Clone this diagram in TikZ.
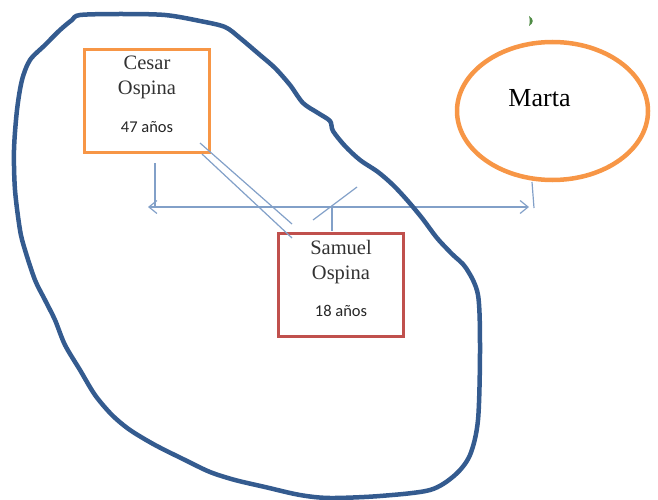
\documentclass[tikz,border=0pt]{standalone}
\usepackage{fontspec}
\setmainfont{Liberation Serif}
\newfontfamily\agefont{Carlito}
\usetikzlibrary{positioning, arrows.meta, shapes.geometric}

\definecolor{boxorange}{RGB}{247,150,70}
\definecolor{boxred}{RGB}{192,80,77}
\definecolor{linkblue}{RGB}{130,160,200}
\definecolor{loopblue}{RGB}{52,91,143}
\definecolor{namegray}{RGB}{50,50,50}
\definecolor{markgreen}{RGB}{80,140,70}

\begin{document}
\begin{tikzpicture}[x=1pt, y=-1pt,
    person/.style={draw, line width=3pt, minimum width=125pt, minimum height=103pt},
    nametext/.style={text=namegray, font=\fontsize{20.5}{25}\selectfont, align=center},
    agetext/.style={text=black!85, font=\agefont\fontsize{16.5}{18}\selectfont},
    link/.style={draw=linkblue, line width=1.2pt},
    barb/.tip={Straight Barb[length=8pt, width=13pt]}]
    \useasboundingbox (0,0) rectangle (658,500);

    % people
    \node[person, draw=boxorange] (cesar) at (147,101) {};
    \node[nametext] (cesarname) at (147,77) {Cesar\\Ospina};
    \node[agetext] (cesarage) at (147,127) {47 años};

    \node[person, draw=boxred] (samuel) at (341,285) {};
    \node[nametext] (samuelname) at (341,262) {Samuel\\Ospina};
    \node[agetext] (samuelage) at (341,311) {18 años};

    \node[draw=boxorange, line width=4.5pt, ellipse, minimum width=191pt, minimum height=138pt] (marta) at (552.5,111) {};
    \node[font=\fontsize{26}{30}\selectfont] (martaname) at (539.5,98) {Marta};

    % connectors
    \coordinate (cesarfoot) at (155,163);
    \coordinate (leftend) at (148,207);
    \coordinate (rightend) at (529,207);
    \coordinate (martafoot) at (532,182);
    \coordinate (martaend) at (534,208);
    \coordinate (samueltop) at (332,231);
    \draw[link] (cesarfoot) -- (cesarfoot |- leftend);
    \draw[link, barb-barb] (leftend) -- (rightend);
    \draw[link] (martafoot) -- (martaend);
    \draw[link] (samueltop |- leftend) -- (samueltop);
    \draw[link] (200,143) -- (292,224);
    \draw[link] (202,154) -- (292,238);
    \draw[link] (313,220) -- (357,187);

    % hand drawn loop
    \draw[loopblue, line width=4.5pt, line join=round] plot[smooth cycle, tension=0.5] coordinates {
        (80,15) (120,14) (165,15) (200,21) (225,27) (240,38) (260,55) (275,68)
        (290,85) (303,103) (318,113) (330,121) (333,131) (345,146) (360,160)
        (378,172) (393,185) (407,200) (422,218) (437,238) (452,254) (466,268)
        (478,295) (480,350) (478,420) (470,455) (455,475) (430,490) (380,496)
        (330,498) (300,495) (265,487) (235,480) (210,472) (185,460) (155,445)
        (130,430) (112,415) (95,395) (80,370) (65,345) (55,320) (45,300)
        (35,280) (25,250) (20,230) (15,190) (14,150) (17,110) (22,80) (30,60)
        (45,45) (60,30) (72,20)};

    % small mark
    \fill[markgreen] (529,16) .. controls (534,19) and (534,23) .. (529,26)
        .. controls (530,22) and (530,20) .. (529,16);
\end{tikzpicture}
\end{document}
